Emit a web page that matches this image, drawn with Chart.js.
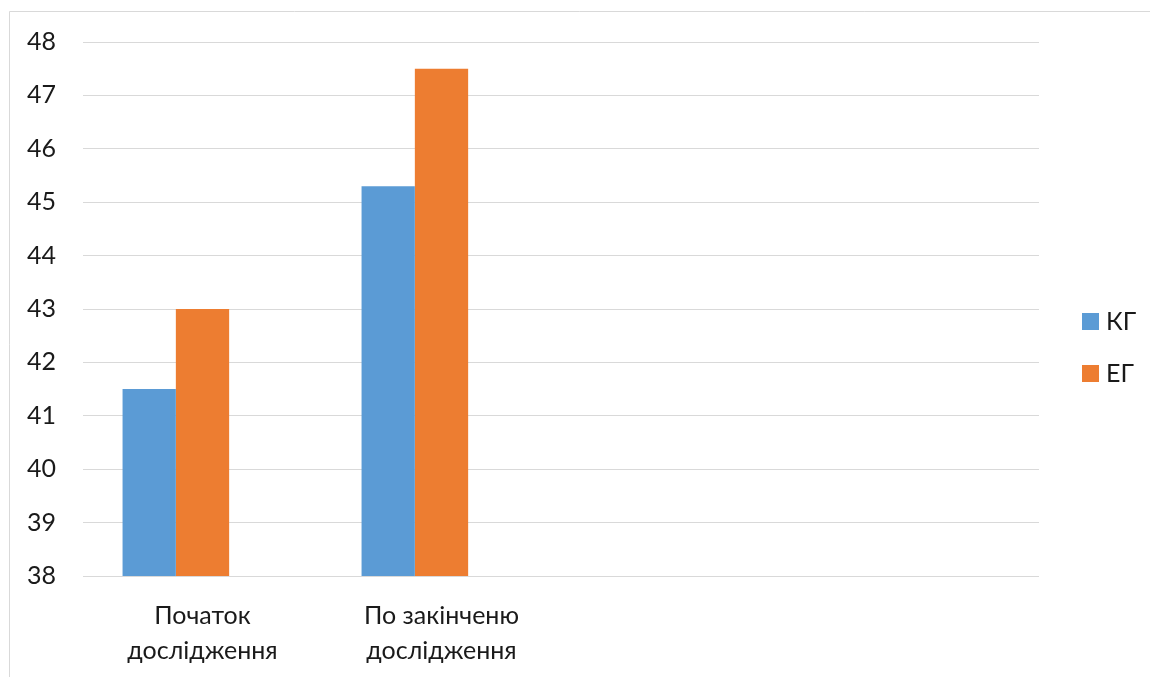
<!DOCTYPE html>
<html>
<head>
<meta charset="utf-8">
<script src="https://cdn.jsdelivr.net/npm/chart.js@4"></script>
<style>
  html, body { margin: 0; padding: 0; background: #ffffff; }
  #wrap { position: absolute; left: 0; top: 0; width: 1150px; height: 677px; }
</style>
</head>
<body>
<div id="wrap"><canvas id="chart" width="1150" height="677"></canvas></div>
<script>
// Categories (two periods of the study plus two unused slots)
const categories = [['Початок', 'дослідження'], ['По закінченю', 'дослідження'], '', ''];
// Group results
const kgValues = [41.5, 45.3, null, null];
const egValues = [43.0, 47.5, null, null];
const spareValues = [null, null, null, null];
// Value axis
const yMin = 38;
const yMax = 48;
const yStep = 1;

const FONT = 'Lato, "Open Sans", sans-serif';
const TEXT = '#1a1a1a';
const GRID = '#d9d9d9';

const framePlugin = {
  id: 'frame',
  beforeDraw(chart) {
    const ctx = chart.ctx;
    ctx.save();
    ctx.fillStyle = '#ffffff';
    ctx.fillRect(0, 0, chart.width, chart.height);
    ctx.strokeStyle = GRID;
    ctx.lineWidth = 1;
    ctx.beginPath();
    ctx.moveTo(9.5, chart.height);
    ctx.lineTo(9.5, 11.5);
    ctx.lineTo(chart.width, 11.5);
    ctx.stroke();
    ctx.restore();
  }
};

const sideLegend = {
  id: 'sideLegend',
  afterDraw(chart) {
    const ctx = chart.ctx;
    const items = chart.data.datasets.filter(d => d.label);
    ctx.save();
    ctx.font = '25px ' + FONT;
    ctx.textBaseline = 'middle';
    ctx.textAlign = 'left';
    items.forEach((ds, i) => {
      const y = 313 + i * 52;
      ctx.fillStyle = ds.backgroundColor;
      ctx.fillRect(1082, y, 17, 17);
      ctx.fillStyle = TEXT;
      ctx.fillText(ds.label, 1106, y + 9);
    });
    ctx.restore();
  }
};

new Chart(document.getElementById('chart'), {
  type: 'bar',
  data: {
    labels: categories,
    datasets: [
      { label: 'КГ', data: kgValues, backgroundColor: '#5B9BD5' },
      { label: 'ЕГ', data: egValues, backgroundColor: '#ED7D31' },
      { label: '', data: spareValues, backgroundColor: '#A5A5A5' }
    ]
  },
  options: {
    responsive: false,
    animation: false,
    devicePixelRatio: 1,
    layout: { padding: { left: 0, top: 42, right: 111, bottom: 0 } },
    datasets: { bar: { categoryPercentage: 0.669, barPercentage: 1.0 } },
    plugins: { legend: { display: false }, tooltip: { enabled: false } },
    scales: {
      x: {
        grid: { display: false, drawTicks: false },
        border: { display: false },
        ticks: { color: TEXT, font: { family: FONT, size: 25, lineHeight: 1.4 }, padding: 22, maxRotation: 0, autoSkip: false },
        afterFit(s) { s.height = 101; }
      },
      y: {
        min: yMin,
        max: yMax,
        grid: { color: GRID, lineWidth: 1, drawTicks: false },
        border: { display: false },
        ticks: { stepSize: yStep, color: TEXT, font: { family: FONT, size: 25 }, padding: 27 },
        afterFit(s) { s.width = 83; }
      }
    }
  },
  plugins: [framePlugin, sideLegend]
});
</script>
</body>
</html>
